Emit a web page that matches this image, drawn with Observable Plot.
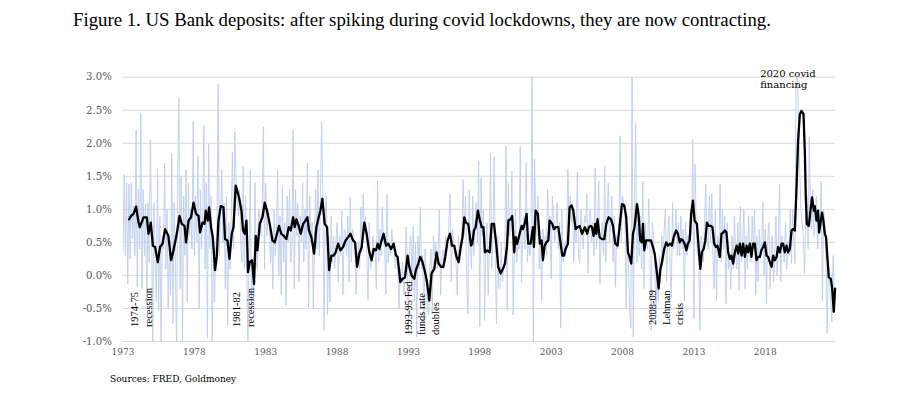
<!DOCTYPE html>
<html>
<head>
<meta charset="utf-8">
<script src="https://cdn.jsdelivr.net/npm/d3@7"></script>
<script src="https://cdn.jsdelivr.net/npm/@observablehq/plot@0.6"></script>
<style>
  html, body { margin: 0; padding: 0; background: #ffffff; }
  #wrap { position: relative; width: 902px; height: 394px; overflow: hidden; }
  #title { position: absolute; left: 73px; top: 10px; font-family: "Liberation Serif", serif; font-size: 18.8px; line-height: 19px; color: #000; white-space: nowrap; }
  #chart { position: absolute; left: 0; top: 40px; }
  #source { position: absolute; left: 110px; top: 374px; font-family: "DejaVu Serif", serif; font-size: 9px; line-height: 10px; color: #000; white-space: nowrap; }
</style>
</head>
<body>
<div id="wrap">
  <div id="title">Figure 1. US Bank deposits: after spiking during covid lockdowns, they are now contracting.</div>
  <div id="chart"></div>
  <div id="source">Sources: FRED, Goldmoney</div>
</div>
<script>
// Monthly % change of US bank deposits (light blue), Jan 1973 onwards, one row per year
const blueStart = 1973;
const blueValues = [
  0.35, 1.53, 0.30, 1.40, -0.13, 1.38, 0.25, 1.40, 0.55, 1.05, 0.30, 2.20,   // 1973
  -0.18, 1.30, 0.40, 2.45, -0.20, 1.30, 0.30, 1.08, -0.45, 1.10, 0.20, 2.05, // 1974
  0.80, -1.20, 1.10, 0.30, -0.40, 1.62, -0.53, 0.90, -1.05, 0.60, 0.40, 1.70, // 1975
  0.10, 1.00, -0.50, 0.40, -0.30, 1.84, -0.73, 1.10, 0.20, -1.10, 1.50, 2.68, // 1976
  -0.20, 1.50, -1.05, 1.20, 0.30, 1.60, -0.40, 1.40, 0.60, 1.00, 0.40, 2.33, // 1977
  0.30, 1.20, 0.50, 1.80, -0.50, 1.30, 0.40, 0.90, 2.27, 0.10, 1.40, -0.95,  // 1978
  2.00, 0.40, 1.20, -1.05, 0.30, -0.40, 0.40, 0.80, 2.90, 0.30, 0.90, 1.60,  // 1979
  0.50, 1.10, -0.20, 1.20, -0.75, 0.80, 0.10, 0.90, 1.87, 0.40, 2.17, 1.50,  // 1980
  1.20, 0.90, 1.30, 0.50, 0.20, 1.65, 0.10, 1.20, 0.40, -1.20, 0.30, 1.60,   // 1981
  -0.55, 0.20, -0.30, 1.40, 0.20, 0.10, 1.00, 0.90, 0.60, 1.00, 2.25, 0.10,  // 1982
  1.40, 0.60, 0.90, 0.80, 0.20, 0.70, -0.20, 1.00, 0.30, 0.60, 1.60, 0.00,   // 1983
  0.90, -0.30, 1.35, 0.20, 0.80, -0.45, 1.20, 0.50, 1.30, 0.20, 0.40, 2.20,  // 1984
  -0.20, 1.30, 0.60, 1.10, -0.10, 0.90, 0.50, 1.40, 0.20, 1.00, 0.40, 1.70,  // 1985
  -0.48, 1.20, 0.50, 0.80, -0.50, 0.60, 1.30, 0.40, 1.60, 0.30, 1.10, 2.32,  // 1986
  1.30, -0.83, 0.90, 1.20, -0.60, 0.60, -0.40, 0.90, 0.20, 0.60, 0.10, 0.50, // 1987
  0.80, -0.10, 0.60, 0.30, 0.98, -0.30, 0.70, 0.60, 0.30, 0.90, -0.10, 1.18, // 1988
  0.20, 0.70, 0.60, 0.40, -0.28, 0.20, 0.50, 0.10, 1.03, 0.40, 1.23, 0.70,   // 1989
  0.90, 0.30, -0.38, 0.80, 0.10, 0.20, 0.60, 0.30, 0.40, -0.20, 1.43, 0.20,  // 1990
  0.70, 0.30, 1.03, 0.50, 0.40, -0.28, 1.23, 0.20, 0.50, 0.30, 0.70, 0.40,   // 1991
  0.50, 0.10, 0.30, 0.20, -0.50, 0.10, -0.10, 0.20, -0.30, 0.00, 0.73, 0.20, // 1992
  -0.88, 0.40, 0.60, -0.20, 0.73, -0.40, 0.50, -0.93, 0.60, 0.10, 1.03, 0.10, // 1993
  0.30, -0.73, 0.40, -0.10, -0.50, -0.60, 0.10, 0.40, -0.58, 0.60, 0.30, 0.50, // 1994
  0.10, 0.40, 1.00, -0.30, 0.20, 0.40, 0.10, 0.60, 0.50, 0.40, 0.80, 1.23,   // 1995
  -0.10, 0.70, 0.50, 0.30, 0.20, -0.30, 0.60, 0.30, 0.50, 0.70, 1.45, 0.60,  // 1996
  1.20, -0.10, -0.58, 1.30, 0.40, 0.10, 1.20, 0.30, 0.80, 1.10, 0.50, 1.73,  // 1997
  -0.78, 1.48, 0.60, 1.00, -0.68, 0.50, 0.80, -0.30, 0.40, 1.83, 0.10, 0.60, // 1998
  1.80, 0.20, -0.73, 0.60, -0.20, -0.18, 0.50, -0.10, 0.10, 0.30, 1.96, -0.53, // 1999
  1.40, 0.60, 0.70, 1.58, -0.60, 0.30, 1.00, 0.20, 0.50, 0.40, 1.96, -0.10,  // 2000
  0.50, 0.90, 0.40, 1.71, 0.20, 0.60, 0.30, 0.50, 3.30, -1.30, 1.76, 1.00,   // 2001
  0.60, 1.20, 0.10, 0.60, -0.38, 0.70, 0.40, 0.60, 0.30, 1.31, 0.70, 0.90,   // 2002
  -0.05, 1.20, 0.90, 0.50, 0.70, 1.10, 0.40, 0.80, -0.80, 1.00, 0.20, 0.50,  // 2003
  0.30, 0.60, 1.61, 0.90, 1.20, 0.80, 1.00, 0.20, 0.90, 0.50, 1.56, 0.30,    // 2004
  0.18, 1.00, 0.60, 0.40, 0.90, 0.80, 1.23, 0.03, 0.90, 1.00, 0.50, 0.80,    // 2005
  0.30, 1.63, 0.40, 0.70, 1.43, -0.13, 0.60, 0.80, 0.30, 1.66, 0.20, 0.90,   // 2006
  1.40, 0.50, 0.80, 1.20, 0.20, 0.90, -0.18, 0.60, 0.40, 0.80, 2.11, 0.50,   // 2007
  1.20, 1.10, 0.90, -0.50, 0.60, 0.10, -0.50, -0.80, 3.10, -0.93, 1.00, 2.31, // 2008
  0.20, 1.00, 0.30, 0.90, 0.10, 1.43, -0.20, 0.80, 0.50, 0.40, 1.16, 0.30,   // 2009
  -0.83, 0.80, 0.60, 0.30, -0.63, 0.20, -0.40, 0.30, -0.10, 0.60, 0.20, 0.70, // 2010
  1.00, -0.10, 0.60, 0.90, 0.10, -0.33, 1.10, 0.40, 0.60, 1.00, 0.30, 0.80,  // 2011
  0.30, 0.90, 0.40, 0.70, -0.38, 0.80, 0.30, 0.60, 0.40, 1.00, 0.60, 2.06,   // 2012
  -0.65, 1.68, 0.70, 0.30, 0.40, -0.83, 0.60, 0.40, 0.20, 0.90, 1.38, 0.50,  // 2013
  0.40, 1.20, 0.50, 1.23, 0.30, -0.20, 1.00, -0.38, 0.60, 0.30, 1.38, 0.20,  // 2014
  1.00, 0.40, 0.90, -0.43, 0.80, 0.10, 0.30, -0.20, 0.60, 0.10, 0.90, 0.40,  // 2015
  0.10, 0.80, -0.23, 1.05, 0.20, 0.50, 1.00, -0.20, 0.60, 0.10, 0.90, 0.30,  // 2016
  0.20, 0.90, 0.40, 1.00, -0.30, 0.60, -0.10, 0.70, 0.30, 0.50, 1.10, 0.00,  // 2017
  0.70, -0.43, 0.50, 0.80, -0.20, 0.40, 0.60, -0.10, 0.30, 0.90, 0.00, 0.50, // 2018
  1.38, -0.10, 0.60, 0.40, 0.20, 0.80, 0.10, 0.50, 0.30, 1.00, 0.18, 1.00,   // 2019
  0.50, 0.18, 3.40, 3.20, 2.20, 1.58, 1.00, 0.80, 0.60, 0.03, 0.90, 1.20,    // 2020
  0.40, 2.10, 1.00, 0.70, 1.30, 0.60, 0.90, 1.20, 0.40, 0.80, 0.70, 1.43,    // 2021
  -0.38, 1.00, 0.80, 0.30, -0.88, 0.20, -0.10, -0.40, -0.70, 0.30, -0.20     // 2022
];

// Smoothed series (black): dates as decimal years and values in %
const blackDates = [
  1973.43,1973.57,1973.74,1973.92,1974.09,1974.18,1974.44,1974.67,1974.79,1974.95,
  1975.09,1975.25,1975.44,1975.60,1975.77,1975.95,1976.18,1976.37,1976.54,1976.77,
  1976.96,1977.12,1977.31,1977.42,1977.59,1977.77,1977.94,1978.12,1978.29,1978.40,
  1978.57,1978.71,1978.80,1978.94,1979.03,1979.17,1979.29,1979.45,1979.57,1979.69,
  1979.85,1980.04,1980.15,1980.32,1980.46,1980.62,1980.74,1980.90,1981.13,1981.30,
  1981.41,1981.53,1981.65,1981.76,1981.88,1982.04,1982.18,1982.30,1982.42,1982.58,
  1982.77,1982.93,1983.09,1983.28,1983.47,1983.63,1983.79,1983.93,1984.09,1984.26,
  1984.45,1984.61,1984.75,1984.92,1985.03,1985.15,1985.31,1985.45,1985.62,1985.78,
  1985.92,1986.03,1986.20,1986.39,1986.55,1986.71,1986.83,1986.97,1987.13,1987.30,
  1987.44,1987.60,1987.76,1987.90,1988.07,1988.23,1988.42,1988.60,1988.77,1988.93,
  1989.12,1989.26,1989.40,1989.56,1989.72,1989.91,1990.07,1990.26,1990.42,1990.56,
  1990.72,1990.84,1990.96,1991.08,1991.26,1991.43,1991.59,1991.78,1991.96,1992.13,
  1992.24,1992.43,1992.59,1992.76,1992.94,1993.06,1993.22,1993.41,1993.52,1993.69,
  1993.83,1993.99,1994.16,1994.30,1994.46,1994.62,1994.81,1994.97,1995.11,1995.28,
  1995.44,1995.58,1995.74,1995.91,1996.05,1996.21,1996.37,1996.51,1996.68,1996.79,
  1996.91,1997.03,1997.19,1997.38,1997.47,1997.59,1997.71,1997.87,1997.99,1998.13,
  1998.25,1998.36,1998.52,1998.69,1998.83,1998.99,1999.15,1999.29,1999.46,1999.62,
  1999.76,1999.90,2000.00,2000.16,2000.27,2000.41,2000.51,2000.62,2000.79,2000.93,
  2001.02,2001.16,2001.28,2001.39,2001.56,2001.72,2001.79,2001.91,2002.07,2002.21,
  2002.33,2002.42,2002.54,2002.66,2002.80,2002.89,2003.08,2003.19,2003.31,2003.50,
  2003.66,2003.78,2003.89,2004.01,2004.17,2004.29,2004.43,2004.55,2004.71,2004.85,
  2004.99,2005.17,2005.36,2005.52,2005.64,2005.76,2005.86,2005.97,2006.09,2006.16,
  2006.25,2006.39,2006.56,2006.72,2006.86,2007.02,2007.19,2007.33,2007.49,2007.65,
  2007.79,2007.96,2008.12,2008.26,2008.38,2008.49,2008.61,2008.73,2008.84,2009.01,
  2009.12,2009.24,2009.36,2009.43,2009.52,2009.64,2009.82,2009.99,2010.13,2010.25,
  2010.41,2010.53,2010.64,2010.76,2010.92,2011.06,2011.18,2011.34,2011.46,2011.58,
  2011.76,2011.88,2012.00,2012.11,2012.23,2012.35,2012.47,2012.58,2012.70,2012.81,
  2012.93,2013.05,2013.21,2013.33,2013.45,2013.56,2013.68,2013.80,2013.91,2014.03,
  2014.19,2014.30,2014.42,2014.54,2014.65,2014.82,2014.93,2015.05,2015.17,2015.28,
  2015.40,2015.52,2015.63,2015.75,2015.87,2015.99,2016.10,2016.22,2016.34,2016.45,
  2016.57,2016.69,2016.80,2016.92,2017.03,2017.15,2017.27,2017.38,2017.50,2017.62,
  2017.73,2017.85,2017.97,2018.09,2018.20,2018.32,2018.44,2018.55,2018.67,2018.79,
  2018.90,2019.02,2019.14,2019.25,2019.37,2019.49,2019.60,2019.72,2019.84,2019.95,
  2020.07,2020.19,2020.30,2020.42,2020.54,2020.68,2020.77,2020.84,2020.91,2021.05,
  2021.19,2021.28,2021.40,2021.47,2021.59,2021.70,2021.77,2021.89,2021.98,2022.07,
  2022.17,2022.26,2022.35,2022.45,2022.59,2022.68,2022.80,2022.89
];
const blackValues = [
  0.85,0.90,0.93,1.04,0.80,0.73,0.88,0.88,0.63,0.80,
  0.45,0.43,0.20,0.43,0.48,0.70,0.60,0.23,0.38,0.63,
  0.90,0.78,0.75,0.50,0.83,0.88,1.10,0.93,0.90,0.65,
  0.80,0.78,0.98,0.83,1.03,0.73,0.58,0.08,0.28,0.83,
  1.05,1.03,0.55,0.53,0.25,0.63,0.73,1.36,1.18,0.98,
  0.68,0.63,0.83,0.05,0.20,0.23,-0.13,0.60,0.38,0.78,
  0.88,1.10,0.98,0.78,0.53,0.50,0.63,0.75,0.63,0.60,
  0.55,0.73,0.68,0.88,0.73,0.85,0.75,0.63,0.78,0.83,
  0.88,0.68,0.58,0.33,0.73,0.88,0.98,1.16,0.78,0.73,
  0.08,0.30,0.30,0.35,0.48,0.38,0.43,0.53,0.58,0.63,
  0.53,0.50,0.13,0.33,0.43,0.80,0.63,0.35,0.23,0.40,
  0.38,0.48,0.40,0.50,0.63,0.45,0.48,0.40,0.48,0.30,
  0.28,-0.10,-0.05,-0.03,0.30,0.13,0.00,-0.05,0.08,0.18,
  0.28,0.20,0.05,-0.10,-0.38,0.03,0.10,0.35,0.18,0.13,
  0.13,0.28,0.53,0.63,0.45,0.45,0.28,0.20,0.45,0.58,
  0.88,0.80,0.78,0.45,0.48,0.68,0.73,0.98,0.85,0.73,
  0.73,0.35,0.38,0.35,0.78,0.78,0.48,0.13,0.03,0.10,
  0.18,0.43,0.83,0.85,0.90,0.35,0.58,0.48,0.63,0.75,
  0.70,0.80,0.93,0.48,0.48,0.73,0.43,0.98,0.93,0.48,
  0.53,0.23,0.45,0.50,0.53,0.83,0.78,0.70,0.73,0.73,
  0.48,0.30,0.30,0.40,0.48,1.03,1.06,0.98,0.70,0.73,
  0.75,0.63,0.73,0.63,0.73,0.75,0.73,0.60,0.78,0.63,
  0.85,0.58,0.55,0.55,0.78,0.88,0.85,0.75,0.48,0.45,
  0.73,1.08,1.06,0.88,0.35,0.28,0.18,0.63,0.73,1.08,
  0.93,0.53,0.50,0.78,0.38,0.53,0.53,0.53,0.43,0.33,
  0.03,-0.20,0.08,0.20,0.40,0.50,0.45,0.48,0.45,0.58,
  0.68,0.63,0.50,0.55,0.53,0.48,0.38,0.48,0.53,0.93,
  1.13,0.83,0.78,0.43,0.10,0.35,0.40,0.53,0.80,0.75,
  0.75,0.73,0.48,0.43,0.45,0.28,0.63,0.65,0.68,0.65,
  0.35,0.25,0.30,0.18,0.35,0.45,0.33,0.48,0.30,0.48,
  0.28,0.45,0.35,0.48,0.28,0.48,0.48,0.23,0.28,0.28,
  0.38,0.43,0.50,0.30,0.28,0.20,0.13,0.30,0.23,0.28,
  0.43,0.35,0.48,0.48,0.35,0.45,0.35,0.40,0.68,0.70,
  0.68,1.33,2.04,2.44,2.49,2.44,1.88,1.18,0.78,0.75,
  1.03,1.18,0.98,1.05,0.83,0.98,0.65,0.83,0.95,0.83,
  0.63,0.58,0.28,-0.03,-0.05,-0.18,-0.55,-0.20
];

const yTicks = [-1.0, -0.5, 0.0, 0.5, 1.0, 1.5, 2.0, 2.5, 3.0];
const xTicks = [1973, 1978, 1983, 1988, 1993, 1998, 2003, 2008, 2013, 2018];
const xTickLabels = ["1973", "1978", "1983", "1988", "1993", "1998", "2003", "2008", "2013", "2018"];

const noteLabels = ["1974-75\nrecession", "1981-82\nrecession", "1993-95 Fed\nfunds rate\ndoubles", "2008-09\nLehman\ncrisis"];
const noteYears = [1973.39, 1980.53, 1992.55, 2009.66];
const noteValues = [-0.78, -0.78, -0.90, -0.75];
const covidLabel = "2020 covid\nfinancing";
const covidYear = 2017.64;
const covidValue = 3.12;

// Build tables for the library
const blue = blueValues.map((v, i) => ({date: blueStart + i / 12, value: v}));
const black = blackDates.map((d, i) => ({date: d, value: blackValues[i]}));
const notes = noteLabels.map((t, i) => ({label: t, date: noteYears[i], value: noteValues[i]}));

const chart = Plot.plot({
  width: 902,
  height: 330,
  marginLeft: 122.5,
  marginRight: 67,
  marginTop: 36.7,
  marginBottom: 29,
  style: {fontFamily: "DejaVu Serif", background: "transparent", overflow: "visible"},
  x: {domain: [1973, 2022.92]},
  y: {domain: [-1, 3]},
  marks: [
    Plot.gridY(yTicks, {stroke: "#d9d9d9", strokeOpacity: 1, strokeWidth: 1}),
    Plot.lineY(blue, {x: "date", y: "value", stroke: "#bccdec", strokeWidth: 0.9, clip: true}),
    Plot.lineY(black, {x: "date", y: "value", stroke: "#000000", strokeWidth: 2.3, strokeLinejoin: "round"}),
    Plot.axisY(yTicks, {
      tickSize: 0, tickPadding: 11, label: null,
      tickFormat: d => d.toFixed(1) + "%",
      fontSize: 10.2, fontFamily: "DejaVu Serif", fill: "#595959"
    }),
    Plot.axisX(xTicks, {
      tickSize: 0, tickPadding: 7, label: null,
      tickFormat: (d, i) => xTickLabels[xTicks.indexOf(d)],
      fontSize: 9, fontFamily: "DejaVu Serif", fill: "#595959"
    }),
    Plot.text(notes, {
      x: "date", y: "value", text: "label",
      rotate: -90, textAnchor: "start", lineAnchor: "top",
      lineHeight: 1.3, fontSize: 10.5, fontFamily: "Liberation Serif", fill: "#000"
    }),
    Plot.text([covidLabel], {
      x: () => covidYear, y: () => covidValue, text: d => d,
      textAnchor: "start", lineAnchor: "top",
      lineHeight: 1.1, fontSize: 10, fontFamily: "DejaVu Serif", fill: "#000"
    })
  ]
});
document.getElementById("chart").appendChild(chart);
</script>
</body>
</html>
